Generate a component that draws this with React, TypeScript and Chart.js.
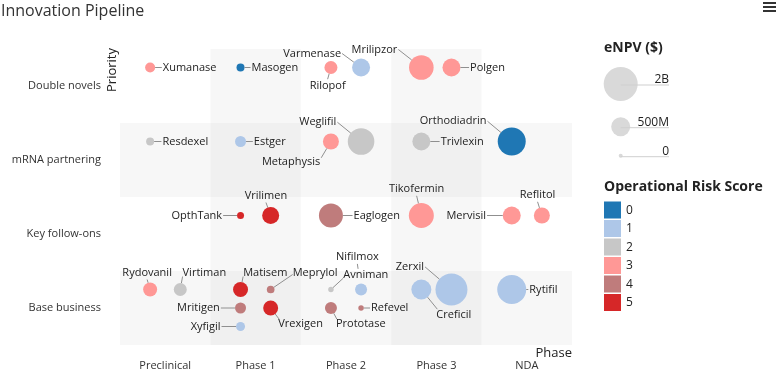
import React, { useEffect, useRef } from 'react';
import { Chart, registerables } from 'chart.js';

Chart.register(...registerables);

// ---------- data ----------
const PHASES = ['Preclinical', 'Phase 1', 'Phase 2', 'Phase 3', 'NDA'];
const PRIORITIES = ['Double novels', 'mRNA partnering', 'Key follow-ons', 'Base business'];
const RISK_LEVELS = ['0', '1', '2', '3', '4', '5'];
const RISK_COLORS = ['#1f77b4', '#aec7e8', '#c7c7c7', '#ff9896', '#bf7c7c', '#d62728'];
const ENPV_LEGEND_VALUES = [2000, 500, 0]; // $M
const ENPV_LEGEND_LABELS = ['2B', '500M', '0'];

const DRUGS = [
  'Xumanase', 'Masogen', 'Rilopof', 'Varmenase', 'Mrilipzor', 'Polgen',
  'Resdexel', 'Estger', 'Metaphysis', 'Weglifil', 'Trivlexin', 'Orthodiadrin',
  'OpthTank', 'Vrilimen', 'Eaglogen', 'Tikofermin', 'Mervisil', 'Reflitol',
  'Rydovanil', 'Virtiman', 'Matisem', 'Meprylol', 'Avniman', 'Nifilmox', 'Zerxil', 'Creficil', 'Rytifil',
  'Mritigen', 'Vrexigen', 'Prototase', 'Refevel', 'Xyfigil',
];
const DRUG_PHASE = [
  0, 1, 2, 2, 3, 3,
  0, 1, 2, 2, 3, 4,
  1, 1, 2, 3, 4, 4,
  0, 0, 1, 1, 2, 2, 3, 3, 4,
  1, 1, 2, 2, 1,
];
const DRUG_PRIORITY = [
  0, 0, 0, 0, 0, 0,
  1, 1, 1, 1, 1, 1,
  2, 2, 2, 2, 2, 2,
  3, 3, 3, 3, 3, 3, 3, 3, 3,
  3, 3, 3, 3, 3,
];
const DRUG_SLOT_X = [
  0, 0, 0, 1, 0, 1,
  0, 0, 0, 1, 0, 0,
  0, 1, 0, 0, 0, 1,
  0, 1, 0, 1, 0, 1, 1, 0, 0,
  0, 1, 0, 1, 0,
];
const DRUG_SLOT_Y = [
  0, 0, 0, 0, 0, 0,
  0, 0, 0, 0, 0, 0,
  0, 0, 0, 0, 0, 0,
  0, 0, 0, 0, 0, 0, 0, 0, 0,
  1, 1, 1, 1, 2,
];
const DRUG_ENPV = [
  80, 36, 180, 436, 943, 436,
  36, 109, 320, 1135, 436, 1280,
  20, 376, 889, 980, 436, 320,
  222, 180, 269, 30, 5, 142, 1742, 569, 1389,
  109, 269, 142, 5, 56,
];
const DRUG_RISK = [
  3, 0, 3, 1, 3, 3,
  2, 1, 3, 2, 2, 0,
  5, 5, 4, 3, 3, 3,
  3, 2, 5, 4, 2, 1, 1, 1, 1,
  4, 5, 4, 4, 1,
];

// ---------- label layout (pixel offsets of the label from its bubble) ----------
// [dx, dy, align, attachDx?, attachDy?, maxLeader?]
const LABEL_LAYOUT: Record<string, any[]> = {
  Xumanase: [12.7, 0, 'l'],
  Masogen: [11, 0, 'l'],
  Rilopof: [-3.3, 18.7, 'c'],
  Varmenase: [-20, -14, 'r'],
  Mrilipzor: [-24, -18, 'r'],
  Polgen: [18.6, 0, 'l'],
  Resdexel: [12.3, 0, 'l'],
  Estger: [13.3, 0, 'l'],
  Metaphysis: [-10.7, 20.3, 'r', 1, -4],
  Weglifil: [-24.7, -19.3, 'r'],
  Trivlexin: [19.3, 0, 'l'],
  Orthodiadrin: [-25.3, -20.3, 'r'],
  OpthTank: [-18.4, 0, 'r'],
  Vrilimen: [-4.7, -20, 'c'],
  Eaglogen: [22.6, 0, 'l'],
  Tikofermin: [-4.7, -26.7, 'c'],
  Mervisil: [-25.7, 0, 'r'],
  Reflitol: [-4.3, -20.7, 'c'],
  Rydovanil: [-3, -17, 'c'],
  Virtiman: [2.3, -17, 'l', 0, 4],
  Matisem: [2.6, -17, 'l', 0, 4],
  Meprylol: [22, -17, 'l', 0, 2],
  Avniman: [12.3, -14.3, 'l', 0, 3],
  Nifilmox: [-3.7, -32.6, 'c', 0, 7, 5],
  Zerxil: [-27.4, -22.6, 'r'],
  Creficil: [15, 25.7, 'l', 1, -6],
  Rytifil: [17.6, 0, 'l'],
  Mritigen: [-20.7, 0, 'r'],
  Vrexigen: [7.6, 16.3, 'l', 1, -5],
  Prototase: [5, 16.3, 'l', 1, -5],
  Refevel: [10, 0, 'l'],
  Xyfigil: [-20, 0, 'r'],
};

const FONT = '"Open Sans", sans-serif';
const radiusFor = (v: number) => 2 + 15 * Math.sqrt(v / 2000);
const SLOT_X = [-1 / 6, 1 / 6];
const SLOT_Y = [-0.25, 0, 0.25];

const points = DRUGS.map((name, i) => ({
  x: DRUG_PHASE[i] + SLOT_X[DRUG_SLOT_X[i]],
  y: DRUG_PRIORITY[i] + SLOT_Y[DRUG_SLOT_Y[i]],
  r: radiusFor(DRUG_ENPV[i]),
  name,
}));
const pointColors = DRUG_RISK.map((r) => RISK_COLORS[r]);

const bandsPlugin = {
  id: 'bands',
  beforeDatasetsDraw(chart: any) {
    const { ctx, chartArea: a, scales } = chart;
    const xs = scales.x, ys = scales.y;
    ctx.save();
    ctx.fillStyle = 'rgba(0,0,0,0.032)';
    [1, 3].forEach((c) => {
      const x0 = xs.getPixelForValue(c - 0.5), x1 = xs.getPixelForValue(c + 0.5);
      ctx.fillRect(x0, a.top, x1 - x0, a.bottom - a.top);
    });
    [1, 3].forEach((r) => {
      const y0 = ys.getPixelForValue(r - 0.5), y1 = ys.getPixelForValue(r + 0.5);
      ctx.fillRect(a.left, y0, a.right - a.left, y1 - y0);
    });
    ctx.restore();
  },
};

const labelsPlugin = {
  id: 'bubbleLabels',
  afterDatasetsDraw(chart: any) {
    const { ctx } = chart;
    const meta = chart.getDatasetMeta(0);
    ctx.save();
    ctx.font = `11px ${FONT}`;
    ctx.textBaseline = 'middle';
    meta.data.forEach((el: any, i: number) => {
      const p = points[i];
      const lay = LABEL_LAYOUT[p.name];
      if (!lay) return;
      const [dx, dy, al, adx, ady, maxLen] = lay;
      const cx = el.x, cy = el.y, r = p.r;
      const tx = cx + dx, ty = cy + dy;
      let ax: number, ay: number;
      if (adx !== undefined) { ax = tx + adx; ay = ty + ady; }
      else if (al === 'l') { ax = tx - 1; ay = ty; }
      else if (al === 'r') { ax = tx + 1; ay = ty; }
      else { ax = tx; ay = ty + (dy < 0 ? 7 : -7); }
      const vx = ax - cx, vy = ay - cy;
      const d = Math.hypot(vx, vy);
      if (d > r + 1) {
        const ux = vx / d, uy = vy / d;
        let len = d - r;
        if (maxLen) len = Math.min(len, maxLen);
        ctx.strokeStyle = '#8f8f8f';
        ctx.lineWidth = 1;
        ctx.beginPath();
        ctx.moveTo(ax, ay);
        ctx.lineTo(ax - ux * len, ay - uy * len);
        ctx.stroke();
      }
      ctx.fillStyle = '#222';
      ctx.textAlign = al === 'l' ? 'left' : al === 'r' ? 'right' : 'center';
      ctx.fillText(p.name, tx, ty);
    });
    ctx.restore();
  },
};

const decorPlugin = {
  id: 'decor',
  afterDraw(chart: any) {
    const { ctx, chartArea: a } = chart;
    ctx.save();
    // title
    ctx.fillStyle = '#333';
    ctx.font = `16px ${FONT}`;
    ctx.textAlign = 'left';
    ctx.textBaseline = 'middle';
    ctx.fillText('Innovation Pipeline', 1, 11);
    // menu icon
    ctx.strokeStyle = '#333';
    ctx.lineWidth = 2;
    [3, 7, 11].forEach((y) => {
      ctx.beginPath();
      ctx.moveTo(763, y);
      ctx.lineTo(776, y);
      ctx.stroke();
    });
    // axis titles
    ctx.fillStyle = '#222';
    ctx.font = `13px ${FONT}`;
    ctx.textAlign = 'right';
    ctx.textBaseline = 'middle';
    ctx.fillText('Phase', a.right, a.bottom + 8);
    ctx.save();
    ctx.translate(a.left - 8, a.top - 1);
    ctx.rotate(-Math.PI / 2);
    ctx.fillText('Priority', 0, 0);
    ctx.restore();

    // eNPV legend
    ctx.fillStyle = '#222';
    ctx.font = `bold 14px ${FONT}`;
    ctx.textAlign = 'left';
    ctx.fillText('eNPV ($)', 604, 48);
    const lx = 620.7;
    const lys = [84, 126.7, 155.7];
    ENPV_LEGEND_VALUES.forEach((v, i) => {
      const cy = lys[i];
      ctx.fillStyle = '#d9d9d9';
      ctx.beginPath();
      ctx.arc(lx, cy, radiusFor(v), 0, Math.PI * 2);
      ctx.fill();
      ctx.strokeStyle = '#cfcfcf';
      ctx.lineWidth = 1;
      ctx.beginPath();
      ctx.moveTo(lx, cy + 1);
      ctx.lineTo(669, cy + 1);
      ctx.stroke();
      ctx.fillStyle = '#222';
      ctx.font = `12px ${FONT}`;
      ctx.textAlign = 'right';
      ctx.fillText(ENPV_LEGEND_LABELS[i], 669, cy - 4);
    });

    // risk legend
    ctx.fillStyle = '#222';
    ctx.font = `bold 14px ${FONT}`;
    ctx.textAlign = 'left';
    ctx.fillText('Operational Risk Score', 604, 187);
    RISK_LEVELS.forEach((lab, i) => {
      const top = 201.5 + i * 18.5;
      ctx.fillStyle = RISK_COLORS[i];
      ctx.fillRect(604, top, 17, 17);
      ctx.fillStyle = '#222';
      ctx.font = `12px ${FONT}`;
      ctx.fillText(lab, 626, top + 9);
    });
    ctx.restore();
  },
};

export default function App() {
  const ref = useRef<HTMLCanvasElement>(null);
  useEffect(() => {
    document.body.style.margin = '0';
    Chart.defaults.font.family = FONT;
    const chart = new Chart(ref.current as HTMLCanvasElement, {
      type: 'bubble',
      data: {
        datasets: [
          {
            data: points as any,
            backgroundColor: pointColors,
            borderWidth: 0,
            hoverBorderWidth: 0,
            hoverRadius: 0,
            clip: false as any,
          },
        ],
      },
      options: {
        animation: false,
        responsive: false,
        events: [],
        layout: { padding: { left: 0, right: 208, top: 49, bottom: 0 } },
        plugins: { legend: { display: false }, tooltip: { enabled: false }, title: { display: false } },
        scales: {
          x: {
            type: 'linear',
            min: -0.5,
            max: 4.5,
            grid: { display: false, drawTicks: false },
            border: { display: false },
            afterBuildTicks: (s: any) => { s.ticks = PHASES.map((_, i) => ({ value: i })); },
            afterFit: (s: any) => { s.height = 35; },
            ticks: {
              padding: 14,
              color: '#333',
              font: { size: 11, family: FONT },
              maxRotation: 0,
              autoSkip: false,
              callback: (v: any) => PHASES[v] ?? '',
            },
          },
          y: {
            type: 'linear',
            min: -0.5,
            max: 3.5,
            reverse: true,
            grid: { display: false, drawTicks: false },
            border: { display: false },
            afterBuildTicks: (s: any) => { s.ticks = PRIORITIES.map((_, i) => ({ value: i })); },
            afterFit: (s: any) => { s.width = 120; },
            ticks: {
              padding: 19,
              color: '#333',
              font: { size: 11, family: FONT },
              autoSkip: false,
              callback: (v: any) => PRIORITIES[v] ?? '',
            },
          },
        },
      },
      plugins: [bandsPlugin, labelsPlugin, decorPlugin],
    } as any);
    return () => chart.destroy();
  }, []);
  return (
    <div style={{ width: 780, height: 380 }}>
      <canvas ref={ref} width={780} height={380} style={{ display: 'block' }} />
    </div>
  );
}
